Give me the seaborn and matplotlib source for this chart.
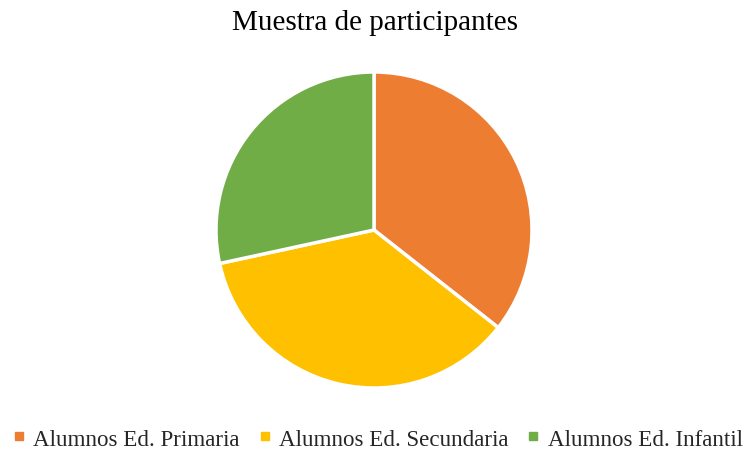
import seaborn as sns
import matplotlib.pyplot as plt

sns.set_theme(style="white")
plt.rcParams['font.family'] = ['Liberation Serif', 'DejaVu Serif']

categorias = ["Alumnos Ed. Primaria", "Alumnos Ed. Secundaria", "Alumnos Ed. Infantil"]
valores = [35.6, 36.0, 28.4]
colores = ["#ED7D31", "#FFC000", "#70AD47"]

fig = plt.figure(figsize=(7.5, 4.52), dpi=100)
# pie centred at (374, 231) px with radius 158 px
ax = fig.add_axes([(374 - 158) / 750, (452 - 389) / 452, 316 / 750, 316 / 452])

wedges, _ = ax.pie(valores, colors=colores, startangle=90, counterclock=False,
                   radius=1, wedgeprops=dict(edgecolor="white", linewidth=2.5))
ax.set_xlim(-1.0, 1.0)
ax.set_ylim(-1.0, 1.0)
ax.set_aspect("equal")
ax.axis("off")

fig.text(0.5, 1 - 23 / 452, "Muestra de participantes", ha="center", va="center",
         fontsize=21, color="black")

handles = [plt.Line2D([], [], marker="s", linestyle="none", markersize=5.5,
                      markerfacecolor=c, markeredgecolor=c) for c in colores]
fig.legend(handles, categorias, loc="center", bbox_to_anchor=(0.505, 1 - 440 / 452),
           ncol=3, frameon=False, fontsize=16.6, handletextpad=0.45,
           columnspacing=0.9, handlelength=0.35, borderpad=0, borderaxespad=0)

fig.savefig("out.png", dpi=100, facecolor="white")
